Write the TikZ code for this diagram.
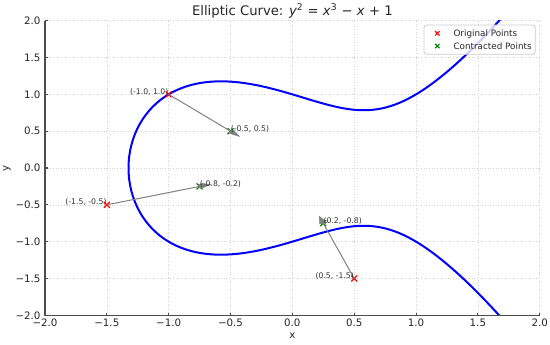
\documentclass[tikz,border=0pt]{standalone}
\usepackage{fontspec}
\setmainfont{DejaVu Sans}
\begin{document}
\begin{tikzpicture}[x=0.75pt,y=-0.75pt,
  gridline/.style={gray!35,line width=0.4pt,dash pattern=on 0.8pt off 1.2pt},
  spine/.style={black!70,line width=0.8pt},
  curveline/.style={blue,line width=1.5pt},
  arrowline/.style={gray,line width=0.75pt},
  arrowhead/.style={fill=gray,draw=gray,line width=0.4pt},
  ticklab/.style={inner sep=0pt,font=\fontsize{7.7pt}{9pt}\selectfont,text=black!85},
  ptlab/.style={inner sep=0pt,font=\fontsize{5.8pt}{7pt}\selectfont,text=black!80},
  leglab/.style={inner sep=0pt,font=\fontsize{6.6pt}{8pt}\selectfont,text=black!85},
  legendbox/.style={draw=black!20,fill=white,fill opacity=0.8,line width=0.6pt,rounded corners=2pt},
  xmark/.pic={\draw[line width=0.95pt] (-2.2pt,-2.2pt) -- (2.2pt,2.2pt) (-2.2pt,2.2pt) -- (2.2pt,-2.2pt);},
  xmarksmall/.pic={\draw[line width=0.85pt] (-1.65pt,-1.65pt) -- (1.65pt,1.65pt) (-1.65pt,1.65pt) -- (1.65pt,-1.65pt);}]
\useasboundingbox (0,0) rectangle (550,344);
% title
\node[anchor=base,inner sep=0pt,font=\fontsize{9.9pt}{12pt}\selectfont,text=black!85] (title) at (292.35,15.7)
  {Elliptic Curve: \textit{y}\textsuperscript{2} = \textit{x}\textsuperscript{3} − \textit{x} + 1};
\begin{scope}[shift={(219.2625pt,-126pt)},x=92.76pt,y=55.2375pt]
  % grid
  \foreach \v in {-1.5,-1,-0.5,0,0.5,1,1.5,2} {
    \draw[gridline] (\v,-2) -- (\v,2);
    \draw[gridline] (-2,\v) -- (2,\v);
  }
  % curve y^2 = x^3 - x + 1
  \begin{scope}
    \clip (-2,-2) rectangle (2,2);
    \draw[curveline] plot[domain=-1.76:1.76,samples=301,smooth,variable=\t]
      ({-1.324718+(\t)*(\t)},{(\t)*sqrt((-1.324718+(\t)*(\t))^2-1.324718*(-1.324718+(\t)*(\t))+0.754878)});
  \end{scope}
  % points
  \coordinate (o1) at (-1,1);
  \coordinate (o2) at (-1.5,-0.5);
  \coordinate (o3) at (0.5,-1.5);
  \coordinate (c1) at (-0.5,0.5);
  \coordinate (c2) at (-0.75,-0.25);
  \coordinate (c3) at (0.25,-0.75);
  \pic[red] at (o1) {xmark};
  \pic[red] at (o2) {xmark};
  \pic[red] at (o3) {xmark};
  \pic[green!50!black] at (c1) {xmark};
  \pic[green!50!black] at (c2) {xmark};
  \pic[green!50!black] at (c3) {xmark};
  % arrows
  \coordinate (t1) at (-0.42929,0.42929);
  \coordinate (l1) at (-0.47879,0.52121);
  \coordinate (r1) at (-0.52121,0.47879);
  \coordinate (t2) at (-0.65513,-0.21838);
  \coordinate (l2) at (-0.75949,-0.22154);
  \coordinate (r2) at (-0.74051,-0.27846);
  \coordinate (t3) at (0.21838,-0.65513);
  \coordinate (l3) at (0.27846,-0.74051);
  \coordinate (r3) at (0.22154,-0.75949);
  \draw[arrowline] (o1) -- (c1);
  \filldraw[arrowhead] (l1) -- (t1) -- (r1) -- cycle;
  \draw[arrowline] (o2) -- (c2);
  \filldraw[arrowhead] (l2) -- (t2) -- (r2) -- cycle;
  \draw[arrowline] (o3) -- (c3);
  \filldraw[arrowhead] (l3) -- (t3) -- (r3) -- cycle;
  % point labels
  \node[ptlab,anchor=base east] (lo1) at (o1) {(-1.0, 1.0)};
  \node[ptlab,anchor=base east] (lo2) at (o2) {(-1.5, -0.5)};
  \node[ptlab,anchor=base east] (lo3) at (o3) {(0.5, -1.5)};
  \node[ptlab,anchor=base west] (lc1) at (c1) {(-0.5, 0.5)};
  \node[ptlab,anchor=base west] (lc2) at (c2) {(-0.8, -0.2)};
  \node[ptlab,anchor=base west] (lc3) at (c3) {(0.2, -0.8)};
  % spines and ticks
  \draw[spine] (-2,2) -- (-2,-2) -- (2,-2);
  \foreach \v/\t in {-2/−2.0,-1.5/−1.5,-1/−1.0,-0.5/−0.5,0/0.0,0.5/0.5,1/1.0,1.5/1.5,2/2.0} {
    \draw[spine] (\v,-2) -- ++(0,2pt);
    \draw[spine] (-2,\v) -- ++(2pt,0);
    \node[ticklab,anchor=north] at ([yshift=-2.5pt]\v,-2) {\t};
    \node[ticklab,anchor=east] at ([xshift=-3.2pt]-2,\v) {\t};
  }
\end{scope}
% axis labels
\node[ticklab] (xlab) at (292.35,335.5) {x};
\node[ticklab,rotate=90] (ylab) at (7,168) {y};
% legend
\draw[legendbox] (424,25) rectangle (535.3,54.3);
\pic[red] at (437.3,33.3) {xmarksmall};
\pic[green!50!black] at (437.3,46) {xmarksmall};
\node[leglab,anchor=base west] (leg1) at (453.3,36.7) {Original Points};
\node[leglab,anchor=base west] (leg2) at (453.3,49.3) {Contracted Points};
\end{tikzpicture}
\end{document}
